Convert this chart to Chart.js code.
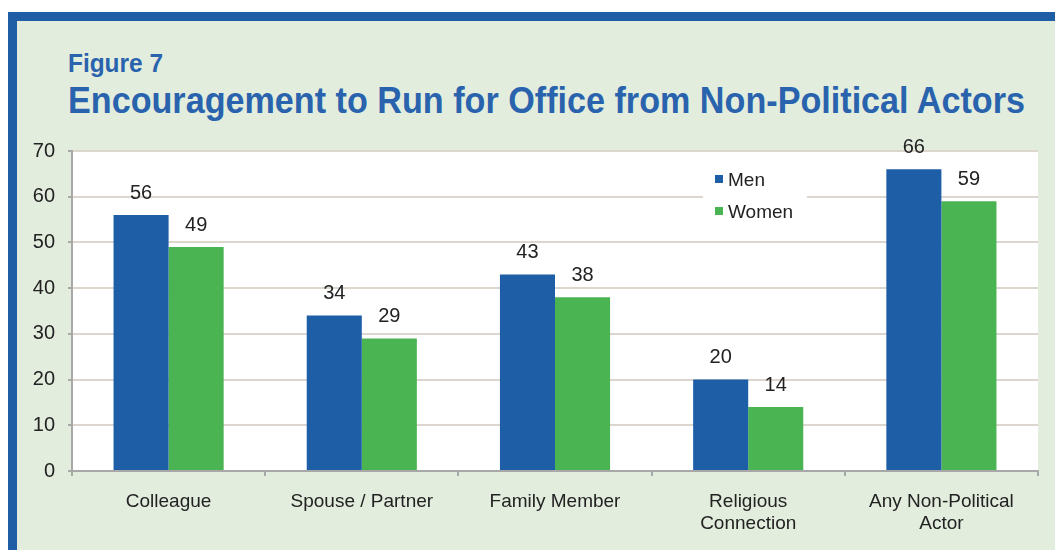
<!DOCTYPE html>
<html>
<head>
<meta charset="utf-8">
<script src="https://cdn.jsdelivr.net/npm/chart.js@4"></script>
<style>
  html, body { margin: 0; padding: 0; background: #fff; }
  #page { position: relative; width: 1055px; height: 550px; overflow: hidden; background: #fff; }
  #frame {
    position: absolute; left: 8px; top: 12px; width: 1060px; height: 560px;
    background: #e3edde; border-left: 9px solid #1f5ea5; border-top: 9px solid #1f5ea5;
  }
  .fig {
    position: absolute; left: 68px; color: #2a63ad; font-family: "Liberation Sans", Arial, sans-serif;
    font-weight: bold; white-space: nowrap; transform-origin: 0 0;
  }
  #figno { top: 48px; font-size: 26px; }
  #title { top: 80px; font-size: 37px; }
  #wrap { position: absolute; left: 0; top: 0; width: 1055px; height: 550px; }
</style>
</head>
<body>
<div id="page">
  <div id="frame"></div>
  <div class="fig" id="figno" data-w="95">Figure 7</div>
  <div class="fig" id="title" data-w="957">Encouragement to Run for Office from Non-Political Actors</div>
  <div id="wrap"><canvas id="chart"></canvas></div>
</div>
<script>
const categories = ["Colleague", "Spouse / Partner", "Family Member", ["Religious", "Connection"], ["Any Non-Political", "Actor"]];
const menValues = [56, 34, 43, 20, 66];
const womenValues = [49, 29, 38, 14, 59];
const yTicks = [0, 10, 20, 30, 40, 50, 60, 70];

const TEXT = "#222222";
const FONT = "'Liberation Sans', Arial, sans-serif";

// the original heading uses a condensed face, squeeze to the same width
document.querySelectorAll(".fig").forEach((el) => {
  const w = el.getBoundingClientRect().width;
  el.style.transform = "scaleX(" + (el.dataset.w / w) + ")";
});

// white plot background
const plotBg = {
  id: "plotBg",
  beforeDraw(chart) {
    const { ctx, chartArea: a } = chart;
    ctx.save();
    ctx.fillStyle = "#ffffff";
    ctx.fillRect(a.left, a.top, a.right - a.left, a.bottom - a.top);
    ctx.restore();
  },
};

// numbers above bars
const barValues = {
  id: "barValues",
  afterDatasetsDraw(chart) {
    const ctx = chart.ctx;
    ctx.save();
    ctx.fillStyle = TEXT;
    ctx.font = "20px " + FONT;
    ctx.textAlign = "center";
    ctx.textBaseline = "bottom";
    chart.data.datasets.forEach((ds, i) => {
      chart.getDatasetMeta(i).data.forEach((bar, j) => {
        ctx.fillText(ds.data[j], bar.x, bar.y - 12);
      });
    });
    ctx.restore();
  },
};

// legend sitting inside the plot, top right
const innerLegend = {
  id: "innerLegend",
  afterDraw(chart) {
    const ctx = chart.ctx;
    const x = 703, y = 160;
    ctx.save();
    ctx.fillStyle = "#ffffff";
    ctx.fillRect(x, y, 104, 68);
    ctx.font = "19px " + FONT;
    ctx.textBaseline = "middle";
    chart.data.datasets.forEach((ds, i) => {
      const cy = y + 20 + i * 32;
      ctx.fillStyle = ds.backgroundColor;
      ctx.fillRect(x + 12, cy - 5, 8, 8);
      ctx.fillStyle = TEXT;
      ctx.fillText(ds.label, x + 25, cy + 1);
    });
    ctx.restore();
  },
};

new Chart(document.getElementById("chart"), {
  type: "bar",
  data: {
    labels: categories,
    datasets: [
      { label: "Men", data: menValues, backgroundColor: "#1d5ea7" },
      { label: "Women", data: womenValues, backgroundColor: "#4bb452" },
    ],
  },
  options: {
    responsive: true,
    maintainAspectRatio: false,
    animation: false,
    layout: { padding: { left: 0, top: 151, right: 17, bottom: 0 } },
    datasets: { bar: { categoryPercentage: 0.57, barPercentage: 1.0 } },
    plugins: { legend: { display: false }, tooltip: { enabled: false } },
    scales: {
      x: {
        afterFit(scale) { scale.height = 79; },
        grid: { offset: true, drawOnChartArea: false, color: "#a8a8a8", tickLength: 5, lineWidth: 2 },
        border: { color: "#a8a8a8", width: 2 },
        ticks: { color: TEXT, font: { family: FONT, size: 19 }, padding: 14, maxRotation: 0 },
      },
      y: {
        min: 0,
        max: 70,
        afterFit(scale) { scale.width = 72; },
        afterBuildTicks(scale) { scale.ticks = yTicks.map((v) => ({ value: v })); },
        grid: { color: "#dcd6cf", lineWidth: 2, tickLength: 4, tickColor: "#a8a8a8" },
        border: { color: "#a8a8a8", width: 2 },
        ticks: { color: TEXT, font: { family: FONT, size: 20 }, padding: 13 },
      },
    },
  },
  plugins: [plotBg, barValues, innerLegend],
});
</script>
</body>
</html>
